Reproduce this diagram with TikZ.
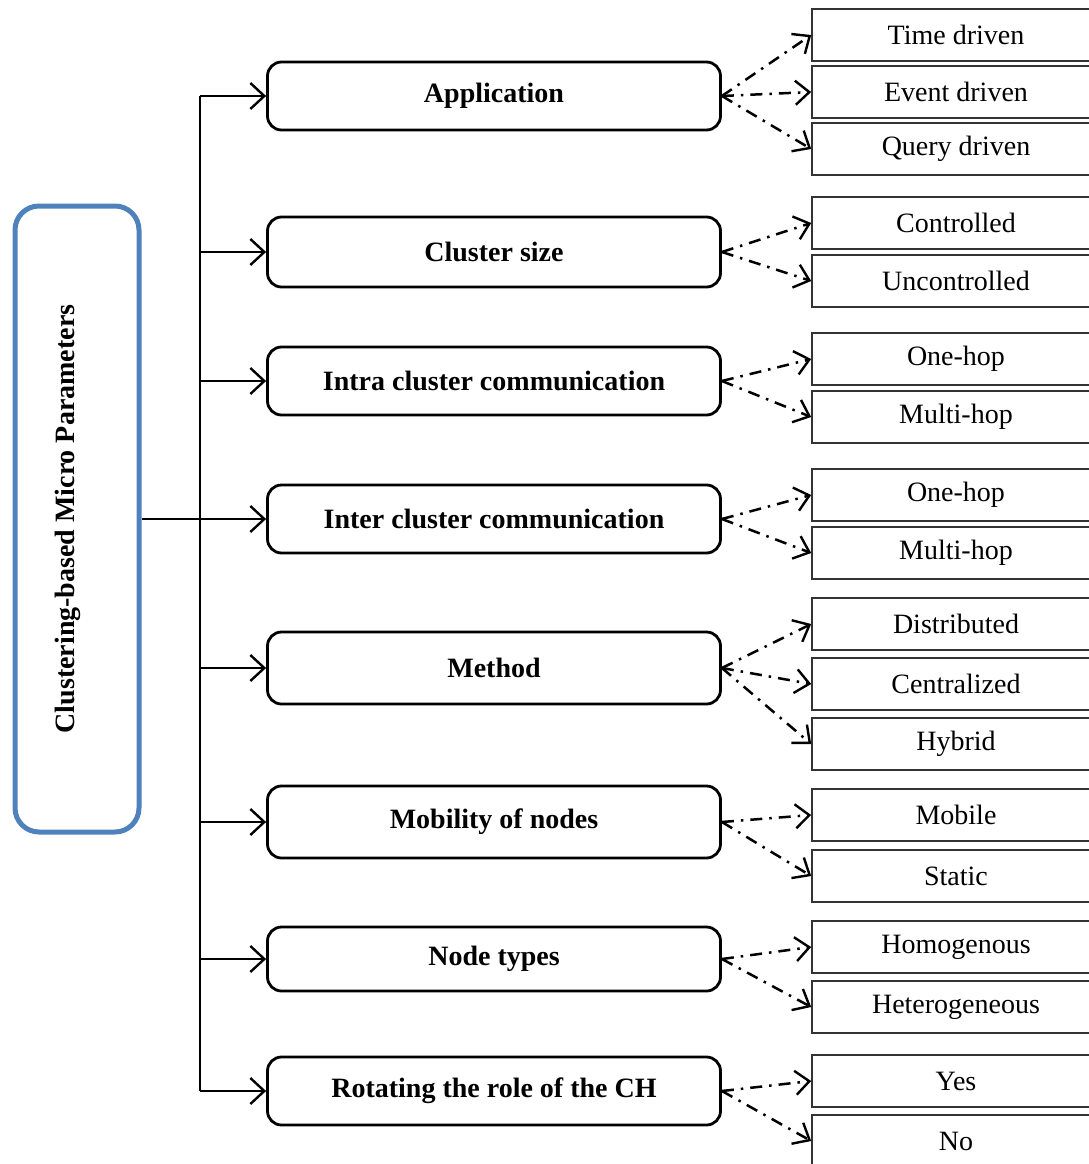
\documentclass[tikz,border=0pt]{standalone}
\usepackage{fontspec}
\setmainfont{Liberation Serif}
\usetikzlibrary{arrows.meta}
\definecolor{mainblue}{RGB}{79,129,189}
\tikzset{
  param/.style={draw, line width=2.8pt, rounded corners=14pt, minimum width=453pt, minimum height=68pt, font=\fontsize{28}{32}\selectfont\bfseries},
  choice/.style={draw=black!80, line width=1.6pt, minimum width=288pt, minimum height=52pt, font=\fontsize{28}{32}\selectfont},
  trunk/.style={line width=2.2pt, -{Straight Barb[length=14pt,width=26pt,line width=2.4pt]}},
  dashdot/.style={line width=2.5pt, dash pattern=on 12pt off 7pt on 2.5pt off 7pt, -{Straight Barb[length=14pt,width=24pt,line width=2.4pt]}}
}
\begin{document}
\begin{tikzpicture}[x=1pt,y=-1pt]
			\clip (0,0) rectangle (1089,1164);
			% root
			\node[draw=mainblue, line width=5pt, rounded corners=24pt, minimum width=124pt, minimum height=626pt] (root) at (77, 519) {};
			\node[rotate=90, font=\fontsize{28}{32}\selectfont\bfseries] (rootlabel) at (68, 519) {Clustering-based Micro Parameters};
			% parameters
			\node[param] (app) at (494, 96) {Application};
			\node[param, minimum height=70pt] (size) at (494, 252) {Cluster size};
			\node[param] (intra) at (494, 381) {Intra cluster communication};
			\node[param] (inter) at (494, 519) {Inter cluster communication};
			\node[param, minimum height=72pt] (method) at (494, 668) {Method};
			\node[param, minimum height=72pt] (mob) at (494, 822) {Mobility of nodes};
			\node[param, minimum height=64pt] (types) at (494, 959) {Node types};
			\node[param] (rot) at (494, 1091) {Rotating the role of the CH};
			% trunk
			\coordinate (top) at (200, 96);
			\coordinate (s2) at (200, 252);
			\coordinate (s3) at (200, 381);
			\coordinate (s5) at (200, 668);
			\coordinate (s6) at (200, 822);
			\coordinate (s7) at (200, 959);
			\coordinate (bottom) at (200, 1091);
			\draw[line width=2.2pt] (top) -- (bottom);
			\draw[trunk] (top) -- (app);
			\draw[trunk] (s2) -- (size);
			\draw[trunk] (s3) -- (intra);
			\draw[trunk] (root) -- (inter);
			\draw[trunk] (s5) -- (method);
			\draw[trunk] (s6) -- (mob);
			\draw[trunk] (s7) -- (types);
			\draw[trunk] (bottom) -- (rot);
			% choices
			\node[choice] (time) at (956, 35) {Time driven};
			\node[choice] (event) at (956, 92) {Event driven};
			\node[choice] (query) at (956, 149) {Query driven};
			\node[choice] (ctrl) at (956, 223) {Controlled};
			\node[choice] (unctrl) at (956, 281) {Uncontrolled};
			\node[choice] (onehopA) at (956, 359) {One-hop};
			\node[choice] (multihopA) at (956, 417) {Multi-hop};
			\node[choice] (onehopB) at (956, 495) {One-hop};
			\node[choice] (multihopB) at (956, 553) {Multi-hop};
			\node[choice] (distr) at (956, 624) {Distributed};
			\node[choice] (central) at (956, 684) {Centralized};
			\node[choice] (hybrid) at (956, 744) {Hybrid};
			\node[choice] (mobile) at (956, 815) {Mobile};
			\node[choice] (static) at (956, 876) {Static};
			\node[choice] (homo) at (956, 947) {Homogenous};
			\node[choice] (hetero) at (956, 1007) {Heterogeneous};
			\node[choice] (yes) at (956, 1081) {Yes};
			\node[choice] (no) at (956, 1141) {No};
			% links
			\draw[dashdot] (app.east) -- (time.west);
			\draw[dashdot] (app.east) -- (event.west);
			\draw[dashdot] (app.east) -- (query.west);
			\draw[dashdot] (size.east) -- (ctrl.west);
			\draw[dashdot] (size.east) -- (unctrl.west);
			\draw[dashdot] (intra.east) -- (onehopA.west);
			\draw[dashdot] (intra.east) -- (multihopA.west);
			\draw[dashdot] (inter.east) -- (onehopB.west);
			\draw[dashdot] (inter.east) -- (multihopB.west);
			\draw[dashdot] (method.east) -- (distr.west);
			\draw[dashdot] (method.east) -- (central.west);
			\draw[dashdot] (method.east) -- (hybrid.west);
			\draw[dashdot] (mob.east) -- (mobile.west);
			\draw[dashdot] (mob.east) -- (static.west);
			\draw[dashdot] (types.east) -- (homo.west);
			\draw[dashdot] (types.east) -- (hetero.west);
			\draw[dashdot] (rot.east) -- (yes.west);
			\draw[dashdot] (rot.east) -- (no.west);
		\end{tikzpicture}
\end{document}
